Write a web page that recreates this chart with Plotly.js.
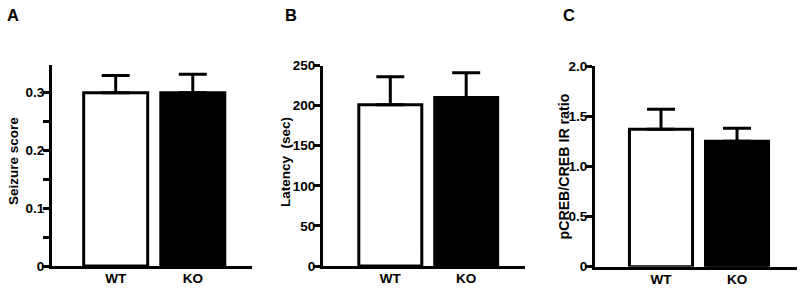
<!DOCTYPE html>
<html>
<head>
<meta charset="utf-8">
<script src="https://cdn.plot.ly/plotly-3.0.1.min.js"></script>
<style>html,body{margin:0;padding:0;background:#fff;}#chart{width:800px;height:292px;}</style>
</head>
<body>
<div id="chart"></div>
<script>
// ---- data ----
var groups = ["WT", "KO"];
var seizureScore = [0.30, 0.30];
var seizureSEM = [0.030, 0.032];
var latencySec = [201, 210];
var latencySEM = [35, 31];
var crebRatio = [1.37, 1.25];
var crebSEM = [0.20, 0.13];
var panelLetters = ["A", "B", "C"];
var yTitles = ["Seizure score", "Latency  (sec)", "pCREB/CREB IR ratio"];
var yTicksA = [0, 0.1, 0.2, 0.3];
var yTickTextA = ["0", "0.1", "0.2", "0.3"];
var yTicksB = [0, 50, 100, 150, 200, 250];
var yTickTextB = ["0", "50", "100", "150", "200", "250"];
var yTicksC = [0, 0.5, 1.0, 1.5, 2.0];
var yTickTextC = ["0", "0.5", "1.0", "1.5", "2.0"];

var W = 800, H = 292;
var FONT = {family: "Arial, 'Liberation Sans', sans-serif", size: 13.5, color: "#000", weight: "bold"};
var barColors = ["#ffffff", "#000000"];

function barTrace(vals, sem, xa, ya) {
  return {
    type: "bar", x: groups, y: vals, xaxis: xa, yaxis: ya,
    width: 0.83,
    marker: {color: barColors, line: {color: "#000", width: 3}},
    error_y: {type: "data", array: sem, arrayminus: [0, 0], symmetric: false,
              color: "#000", thickness: 3, width: 14},
    hoverinfo: "none", showlegend: false
  };
}

function xAxis(px0, px1, r0, r1, anchor) {
  return {
    domain: [px0 / W, px1 / W], range: [r0, r1], type: "category",
    anchor: anchor, showline: true, linewidth: 3, linecolor: "#000",
    ticks: "", showgrid: false, zeroline: false, tickfont: FONT,
    ticklabelstandoff: -2, fixedrange: true
  };
}
function yAxis(py0, py1, r1, tv, tt, anchor, minor) {
  var a = {
    domain: [(H - py0) / H, (H - py1) / H], range: [0, r1],
    anchor: anchor, showline: true, linewidth: 3, linecolor: "#000",
    ticks: "outside", ticklen: 6, tickwidth: 3, tickcolor: "#000",
    tickvals: tv, ticktext: tt, showgrid: false, zeroline: false,
    tickfont: FONT, ticklabelstandoff: -4, fixedrange: true
  };
  if (minor) a.minor = {ticks: "outside", ticklen: 6, tickwidth: 3, tickcolor: "#000", tickvals: minor, showgrid: false};
  return a;
}

var data = [
  barTrace(seizureScore, seizureSEM, "x", "y"),
  barTrace(latencySec, latencySEM, "x2", "y2"),
  barTrace(crebRatio, crebSEM, "x3", "y3")
];

var titleFontC = {family: FONT.family, size: 14.2, color: "#000", weight: "bold"};

var layout = {
  width: W, height: H, margin: {l: 0, r: 0, t: 0, b: 0},
  paper_bgcolor: "#fff", plot_bgcolor: "rgba(0,0,0,0)",
  font: FONT, bargap: 0.17,
  xaxis: xAxis(52, 251.7, -0.826, 1.764, "y"),
  yaxis: yAxis(266, 65, 0.348, yTicksA, yTickTextA, "x", [0.05, 0.15, 0.25]),
  xaxis2: xAxis(323, 525, -0.887, 1.775, "y2"),
  yaxis2: yAxis(266, 65.5, 250, yTicksB, yTickTextB, "x2"),
  xaxis3: xAxis(595, 797, -0.868, 1.789, "y3"),
  yaxis3: yAxis(266.7, 66, 2.0, yTicksC, yTickTextC, "x3"),
  annotations: [
    {text: panelLetters[0], x: 13 / W, y: (H - 15) / H},
    {text: panelLetters[1], x: 291 / W, y: (H - 15) / H},
    {text: panelLetters[2], x: 569 / W, y: (H - 15) / H},
    {text: yTitles[0], x: 13 / W, y: (H - 161) / H, textangle: -90, font: FONT},
    {text: yTitles[1], x: 285 / W, y: (H - 162) / H, textangle: -90, font: FONT},
    {text: yTitles[2], x: 563 / W, y: (H - 166.5) / H, textangle: -90, font: titleFontC}
  ].map(function (a) {
    a.xref = "paper"; a.yref = "paper"; a.showarrow = false;
    a.xanchor = "center"; a.yanchor = "middle";
    if (!a.font) a.font = {family: FONT.family, size: 16.5, color: "#000", weight: "bold"};
    return a;
  })
};

Plotly.newPlot("chart", data, layout, {staticPlot: true, displayModeBar: false});
</script>
</body>
</html>
